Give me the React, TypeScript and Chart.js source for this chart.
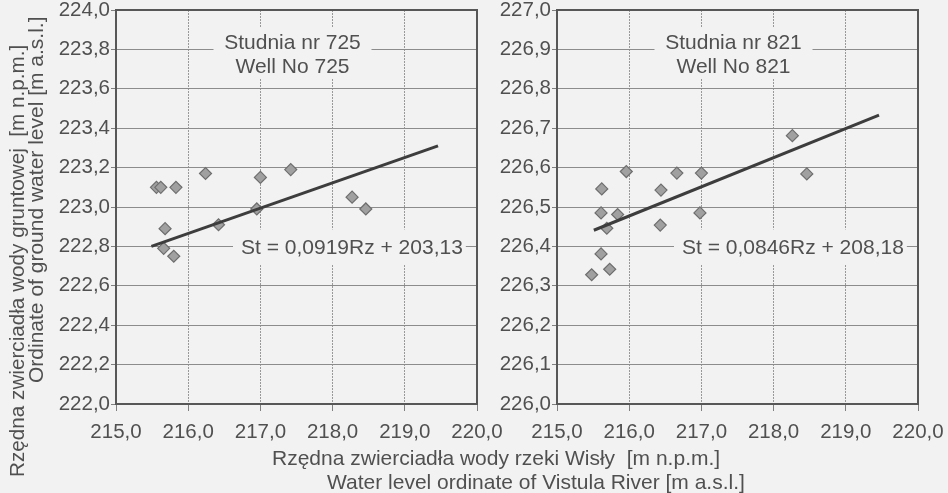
import React, { useEffect, useRef } from 'react';
import { Chart, registerables } from 'chart.js';

Chart.register(...registerables);

// ---------- data ----------
const xTickValues = [215, 216, 217, 218, 219, 220];
const yTicks725 = [222.0, 222.2, 222.4, 222.6, 222.8, 223.0, 223.2, 223.4, 223.6, 223.8, 224.0];
const yTicks821 = [226.0, 226.1, 226.2, 226.3, 226.4, 226.5, 226.6, 226.7, 226.8, 226.9, 227.0];

const well725Rz = [215.56, 215.62, 215.83, 216.24, 215.68, 215.66, 215.8, 216.42, 217.0, 216.95, 217.42, 218.27, 218.46];
const well725St = [223.1, 223.1, 223.1, 223.17, 222.89, 222.79, 222.75, 222.91, 223.15, 222.99, 223.19, 223.05, 222.99];
const trend725Rz = [215.49, 219.46];
const trend725St = [222.8, 223.31];

const well821Rz = [215.62, 215.61, 215.69, 215.84, 215.96, 215.61, 215.48, 215.73, 216.44, 216.43, 216.66, 217.0, 216.98, 218.26, 218.46];
const well821St = [226.546, 226.485, 226.446, 226.481, 226.59, 226.381, 226.328, 226.342, 226.543, 226.454, 226.586, 226.586, 226.485, 226.681, 226.584];
const trend821Rz = [215.51, 219.46];
const trend821St = [226.441, 226.733];

const title725 = ['Studnia nr 725', 'Well No 725'];
const title821 = ['Studnia nr 821', 'Well No 821'];
const equation725 = 'St = 0,0919Rz + 203,13';
const equation821 = 'St = 0,0846Rz + 208,18';
const equationAt725 = 222.8;
const equationAt821 = 226.4;

const xTitle = ['Rzędna zwierciadła wody rzeki Wisły  [m n.p.m.]', 'Water level ordinate of Vistula River [m a.s.l.]'];
const yTitle = ['Rzędna zwierciadła wody gruntowej  [m n.p.m.]', 'Ordinate of ground water level [m a.s.l.]'];

// ---------- styles ----------
const W = 948;
const H = 493;
const BG = '#f2f2f2';
const TEXT = '#505050';
const FONT = '"Liberation Sans", Arial, sans-serif';

const fmt = (v: number) => v.toFixed(1).replace('.', ',');

type Panel = {
  padLeft: number;
  padRight: number;
  yTicks: number[];
  rz: number[];
  st: number[];
  trendRz: number[];
  trendSt: number[];
  title: string[];
  equation: string;
  equationAt: number;
};

function makeConfig(p: Panel): any {
  const annot = {
    id: 'annot',
    beforeDatasetsDraw(chart: any) {
      const { ctx, chartArea: a, scales } = chart;
      ctx.save();
      ctx.font = `21px ${FONT}`;
      // title box
      const cx = a.left + 176.5;
      ctx.fillStyle = BG;
      ctx.fillRect(cx - 79, a.top + 17, 158, 51);
      // equation box
      const ey = scales.y.getPixelForValue(p.equationAt);
      const ex = a.left + 125;
      const ew = ctx.measureText(p.equation).width;
      ctx.fillRect(ex - 8, ey - 17, ew + 11, 35);
      ctx.fillStyle = TEXT;
      ctx.textBaseline = 'alphabetic';
      ctx.textAlign = 'center';
      ctx.fillText(p.title[0], cx, a.top + 39);
      ctx.fillText(p.title[1], cx, a.top + 62.5);
      ctx.textAlign = 'left';
      ctx.fillText(p.equation, ex, ey + 8);
      ctx.restore();
    },
    afterDraw(chart: any) {
      const { ctx, chartArea: a } = chart;
      ctx.save();
      ctx.strokeStyle = '#575757';
      ctx.lineWidth = 2;
      ctx.strokeRect(a.left, a.top, a.right - a.left, a.bottom - a.top);
      ctx.restore();
    },
  };

  return {
    type: 'scatter',
    data: {
      datasets: [
        {
          type: 'line',
          data: p.trendRz.map((x, i) => ({ x, y: p.trendSt[i] })),
          borderColor: '#3d3d3d',
          borderWidth: 3,
          pointRadius: 0,
          fill: false,
          order: 0,
        },
        {
          data: p.rz.map((x, i) => ({ x, y: p.st[i] })),
          pointStyle: 'rectRot',
          pointRadius: 6,
          backgroundColor: '#a0a0a0',
          borderColor: '#6e6e6e',
          borderWidth: 1.2,
          order: 1,
        },
      ],
    },
    options: {
      responsive: false,
      animation: false,
      events: [],
      layout: { padding: { left: p.padLeft, right: p.padRight, top: 10, bottom: 0 } },
      plugins: { legend: { display: false }, tooltip: { enabled: false } },
      scales: {
        x: {
          type: 'linear',
          min: 215,
          max: 220,
          afterBuildTicks: (s: any) => {
            s.ticks = xTickValues.map((v) => ({ value: v }));
          },
          afterFit: (s: any) => {
            s.height = 89;
            s.paddingLeft = 0;
            s.paddingRight = 0;
          },
          grid: {
            color: '#999999',
            tickColor: '#808080',
            tickLength: 7,
            lineWidth: 1,
            tickBorderDash: [],
          },
          border: { display: false, dash: [2, 1] },
          ticks: {
            padding: 11,
            maxRotation: 0,
            autoSkip: false,
            color: TEXT,
            font: { family: FONT, size: 20.5, lineHeight: 1 },
            callback: (v: any) => fmt(Number(v)),
          },
        },
        y: {
          type: 'linear',
          min: p.yTicks[0],
          max: p.yTicks[p.yTicks.length - 1],
          afterBuildTicks: (s: any) => {
            s.ticks = p.yTicks.map((v) => ({ value: v }));
          },
          afterFit: (s: any) => {
            s.width = 116;
            s.paddingTop = 0;
            s.paddingBottom = 0;
          },
          grid: {
            color: '#8c8c8c',
            tickColor: '#808080',
            tickLength: 5,
            lineWidth: 1,
          },
          border: { display: false },
          ticks: {
            padding: 1,
            autoSkip: false,
            color: TEXT,
            font: { family: FONT, size: 20.5, lineHeight: 1 },
            callback: (v: any) => fmt(Number(v)),
          },
        },
      },
    },
    plugins: [annot],
  };
}

function ChartCanvas({ panel }: { panel: Panel }) {
  const ref = useRef<HTMLCanvasElement | null>(null);
  useEffect(() => {
    if (!ref.current) return;
    const chart = new Chart(ref.current, makeConfig(panel));
    return () => chart.destroy();
  }, [panel]);
  return (
    <canvas
      ref={ref}
      width={W}
      height={H}
      style={{ position: 'absolute', left: 0, top: 0, width: W, height: H }}
    />
  );
}

const panel725: Panel = {
  padLeft: 0,
  padRight: W - 477,
  yTicks: yTicks725,
  rz: well725Rz,
  st: well725St,
  trendRz: trend725Rz,
  trendSt: trend725St,
  title: title725,
  equation: equation725,
  equationAt: equationAt725,
};

const panel821: Panel = {
  padLeft: 557 - 116,
  padRight: W - 918,
  yTicks: yTicks821,
  rz: well821Rz,
  st: well821St,
  trendRz: trend821Rz,
  trendSt: trend821St,
  title: title821,
  equation: equation821,
  equationAt: equationAt821,
};

const textStyle: React.CSSProperties = {
  position: 'absolute',
  fontFamily: FONT,
  fontSize: 21,
  lineHeight: '24px',
  color: TEXT,
  whiteSpace: 'pre',
};

export default function App() {
  return (
    <div
      style={{
        position: 'absolute',
        left: 0,
        top: 0,
        width: W,
        height: H,
        background: BG,
        overflow: 'hidden',
      }}
    >
      <ChartCanvas panel={panel725} />
      <ChartCanvas panel={panel821} />
      <div style={{ ...textStyle, left: 272, top: 446 }}>{xTitle[0]}</div>
      <div style={{ ...textStyle, left: 327, top: 470 }}>{xTitle[1]}</div>
      <div
        style={{
          ...textStyle,
          fontSize: 20.7,
          left: 5,
          top: 477,
          transformOrigin: '0 0',
          transform: 'rotate(-90deg)',
        }}
      >
        {yTitle[0]}
      </div>
      <div
        style={{
          ...textStyle,
          left: 24,
          top: 383,
          transformOrigin: '0 0',
          transform: 'rotate(-90deg)',
        }}
      >
        {yTitle[1]}
      </div>
    </div>
  );
}
